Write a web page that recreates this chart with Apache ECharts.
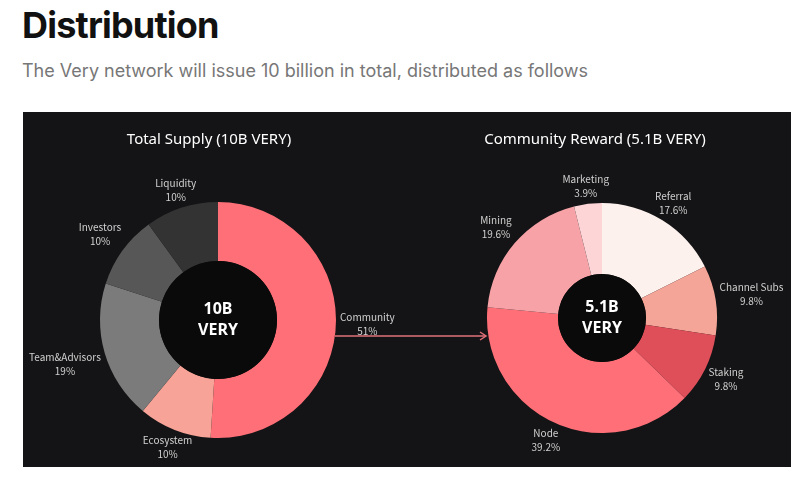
<!DOCTYPE html>
<html>
<head>
<meta charset="utf-8">
<script src="https://cdn.jsdelivr.net/npm/echarts@6/dist/echarts.min.js"></script>
<style>
  body { margin: 0; background: #fff; width: 812px; height: 489px; overflow: hidden; position: relative; }
  h1 { position: absolute; left: 22px; top: 3px; margin: 0; font-family: Inter, sans-serif; font-weight: 700; font-size: 36px; letter-spacing: -0.8px; color: #111; }
  p.sub { position: absolute; left: 22px; top: 60px; margin: 0; font-family: Inter, sans-serif; font-size: 18px; color: #777; }
  #myChart { position: absolute; left: 23px; top: 112px; width: 768px; height: 355px; background: #141416; }
</style>
</head>
<body>
<h1>Distribution</h1>
<p class="sub">The Very network will issue 10 billion in total, distributed as follows</p>
<div id="myChart"></div>
<script>
// 数据
const supplyNames = ["Community", "Ecosystem", "Team&Advisors", "Investors", "Liquidity"];
const supplyValues = [51, 10, 19, 10, 10];
const supplyColors = ["#ff6f77", "#f7a397", "#7b7b7b", "#575757", "#333333"];

const rewardNames = ["Referral", "Channel Subs", "Staking", "Node", "Mining", "Marketing"];
const rewardValues = [17.6, 9.8, 9.8, 39.2, 19.6, 3.9];
const rewardColors = ["#fdf1ee", "#f5a597", "#df4f5a", "#ff6f77", "#f6a2a7", "#fdd5d7"];

document.addEventListener("DOMContentLoaded", function () {
  var myChart = echarts.init(document.getElementById("myChart"));

  // 两个饼图的位置
  var left = { cx: 195, cy: 208, r: 118 };
  var right = { cx: 579, cy: 206, r: 115 };

  // 标签放在扇区中点方向上，文字框离外圈 4px
  function labelLayoutFor(values, pie) {
    var total = values.reduce(function (a, b) { return a + b; }, 0);
    return function (params) {
      var before = 0;
      for (var i = 0; i < params.dataIndex; i++) before += values[i];
      var mid = (before + values[params.dataIndex] / 2) / total * Math.PI * 2;
      var sx = Math.sin(mid), sy = -Math.cos(mid);
      var w = params.labelRect.width, h = params.labelRect.height;
      var ext = Math.min(
        Math.abs(sx) > 1e-6 ? w / 2 / Math.abs(sx) : Infinity,
        Math.abs(sy) > 1e-6 ? h / 2 / Math.abs(sy) : Infinity
      );
      var d = pie.r + 4 + ext;
      return { x: pie.cx + sx * d, y: pie.cy + sy * d, align: "center", verticalAlign: "middle" };
    };
  }

  function toData(names, values, colors) {
    return names.map(function (n, i) {
      return { name: n, value: values[i], itemStyle: { color: colors[i] } };
    });
  }

  var labelStyle = {
    show: true,
    position: "outside",
    overflow: "none",
    formatter: "{b}\n{c}%",
    color: "#d0d0d0",
    fontSize: 10,
    lineHeight: 14,
    fontFamily: "Noto Sans CJK KR",
  };

  var holeLabel = {
    show: true,
    position: "center",
    color: "#fff",
    fontSize: 16,
    fontWeight: "bold",
    lineHeight: 21,
    fontFamily: "Noto Sans",
  };

  var option = {
    animation: false,
    title: [
      {
        text: "Total Supply (10B VERY)",
        left: 181, top: 15, textAlign: "center",
        textStyle: { color: "#fff", fontSize: 15, fontWeight: "normal", fontFamily: "Noto Sans" },
      },
      {
        text: "Community Reward (5.1B VERY)",
        left: 567, top: 15, textAlign: "center",
        textStyle: { color: "#fff", fontSize: 15, fontWeight: "normal", fontFamily: "Noto Sans" },
      },
    ],
    series: [
      {
        type: "pie",
        center: [left.cx, left.cy],
        radius: [left.r / 2, left.r],
        startAngle: 90,
        label: labelStyle,
        labelLine: { show: false },
        labelLayout: labelLayoutFor(supplyValues, left),
        emphasis: { disabled: true },
        data: toData(supplyNames, supplyValues, supplyColors),
      },
      {
        type: "pie",
        center: [left.cx, left.cy],
        radius: [0, left.r / 2],
        silent: true,
        label: Object.assign({ formatter: "10B\nVERY" }, holeLabel),
        labelLine: { show: false },
        data: [{ value: 1, itemStyle: { color: "#0a0a0a" } }],
      },
      {
        type: "pie",
        center: [right.cx, right.cy],
        radius: [44, right.r],
        startAngle: 90,
        label: labelStyle,
        labelLine: { show: false },
        labelLayout: labelLayoutFor(rewardValues, right),
        emphasis: { disabled: true },
        data: toData(rewardNames, rewardValues, rewardColors),
      },
      {
        type: "pie",
        center: [right.cx, right.cy],
        radius: [0, 44],
        silent: true,
        label: Object.assign({ formatter: "5.1B\nVERY" }, holeLabel),
        labelLine: { show: false },
        data: [{ value: 1, itemStyle: { color: "#0a0a0a" } }],
      },
    ],
    // 从左图指向右图的箭头
    graphic: [
      {
        type: "line",
        shape: { x1: left.cx + left.r - 1, y1: 224, x2: right.cx - right.r - 1, y2: 224 },
        style: { stroke: "#e0707a", lineWidth: 1.5 },
        z: 10,
      },
      {
        type: "polyline",
        shape: { points: [[right.cx - right.r - 7, 220], [right.cx - right.r - 1, 224], [right.cx - right.r - 7, 228]] },
        style: { stroke: "#e0707a", lineWidth: 1.5, fill: null },
        z: 10,
      },
    ],
  };

  myChart.setOption(option);
});
</script>
</body>
</html>
